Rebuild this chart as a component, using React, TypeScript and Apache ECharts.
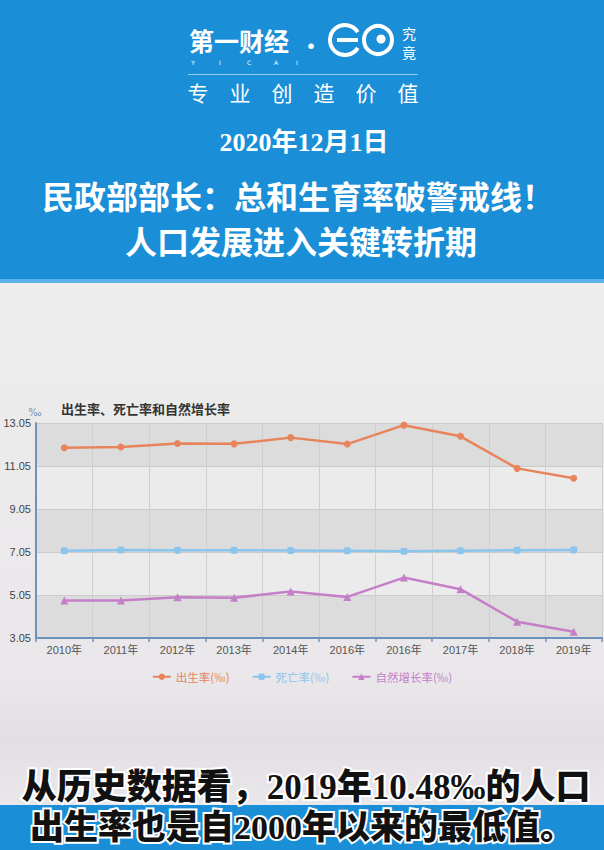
import React, { useEffect, useRef } from "react";
import * as echarts from "echarts";

const categories = ["2010年", "2011年", "2012年", "2013年", "2014年", "2016年", "2016年", "2017年", "2018年", "2019年"];
const birthRate = [11.9, 11.93, 12.1, 12.08, 12.37, 12.07, 12.95, 12.43, 10.94, 10.48];
const deathRate = [7.11, 7.14, 7.13, 7.13, 7.12, 7.11, 7.09, 7.11, 7.13, 7.14];
const naturalRate = [4.79, 4.79, 4.95, 4.92, 5.21, 4.96, 5.86, 5.32, 3.81, 3.34];
const seriesNames = ["出生率(‰)", "死亡率(‰)", "自然增长率(‰)"];
const yMin = 3.05;
const yMax = 13.05;
const yStep = 2;

const BLUE = "#1a8fd7";
const ORANGE = "#e8845c";
const LBLUE = "#8cc5ec";
const PURPLE = "#c57fc8";
const CJK = '"Noto Sans CJK SC", "Noto Sans", sans-serif';
const SERIF_CJK = '"Liberation Serif", "Noto Sans CJK SC", serif';

export default function App() {
  const ref = useRef<HTMLDivElement>(null);
  useEffect(() => {
    if (!ref.current) return;
    const chart = echarts.init(ref.current, undefined, { renderer: "svg" });
    const yicai = ["Y", "I", "C", "A", "I"];
    const yicaiX = [193, 220, 249, 276, 297];
    const graphic: any[] = [
      {
        type: "rect",
        z: -10,
        silent: true,
        shape: { x: 0, y: 0, width: 604, height: 850 },
        style: {
          fill: new echarts.graphic.LinearGradient(0, 0, 0, 1, [
            { offset: 0.33, color: "#ededed" },
            { offset: 0.8, color: "#eae7ea" },
            { offset: 0.87, color: "#e4dde5" },
            { offset: 0.94, color: "#e9e7ea" },
          ]),
        },
      },
      { type: "rect", shape: { x: 0, y: 0, width: 604, height: 283 }, style: { fill: BLUE } },
      { type: "rect", shape: { x: 0, y: 279, width: 604, height: 4 }, style: { fill: "#5db2e8" } },
      // logo
      { type: "text", x: 189, y: 40, style: { text: "第一财经", fill: "#fff", font: `bold 25px ${CJK}`, textVerticalAlign: "middle" } },
      ...yicai.map((t, i) => ({
        type: "text",
        x: yicaiX[i],
        y: 62,
        style: { text: t, fill: "#fff", font: `6px "DejaVu Sans"`, textAlign: "center", textVerticalAlign: "middle" },
      })),
      { type: "text", x: 311, y: 44, style: { text: "·", fill: "#fff", font: `bold 22px ${CJK}`, textAlign: "center", textVerticalAlign: "middle" } },
      {
        type: "arc",
        shape: { cx: 345, cy: 40, r: 15, startAngle: 0.55, endAngle: Math.PI * 2 - 0.55, clockwise: true },
        style: { stroke: "#fff", lineWidth: 4, fill: null },
      },
      { type: "line", shape: { x1: 337, y1: 40, x2: 358, y2: 40 }, style: { stroke: "#fff", lineWidth: 4 } },
      { type: "circle", shape: { cx: 378, cy: 40, r: 14 }, style: { stroke: "#fff", lineWidth: 4, fill: null } },
      { type: "circle", shape: { cx: 381, cy: 39, r: 4.5 }, style: { fill: "#fff" } },
      { type: "text", x: 409, y: 33, style: { text: "究", fill: "#fff", font: `14px ${CJK}`, textAlign: "center", textVerticalAlign: "middle" } },
      { type: "text", x: 409, y: 52, style: { text: "竟", fill: "#fff", font: `14px ${CJK}`, textAlign: "center", textVerticalAlign: "middle" } },
      { type: "line", shape: { x1: 188, y1: 74.5, x2: 418, y2: 74.5 }, style: { stroke: "rgba(255,255,255,0.55)", lineWidth: 1 } },
      {
        type: "text",
        x: 303,
        y: 92,
        style: { text: "专　业　创　造　价　值", fill: "#fff", font: `21px ${CJK}`, textAlign: "center", textVerticalAlign: "middle" },
      },
      {
        type: "text",
        x: 304,
        y: 142,
        style: { text: "2020年12月1日", fill: "#fff", font: `bold 26px ${SERIF_CJK}`, textAlign: "center", textVerticalAlign: "middle" },
      },
      {
        type: "text",
        x: 298,
        y: 195,
        style: { text: "民政部部长：总和生育率破警戒线！", fill: "#fff", font: `bold 32px ${CJK}`, textAlign: "center", textVerticalAlign: "middle" },
      },
      {
        type: "text",
        x: 301,
        y: 240,
        style: { text: "人口发展进入关键转折期", fill: "#fff", font: `bold 32px ${CJK}`, textAlign: "center", textVerticalAlign: "middle" },
      },
      { type: "text", x: 35, y: 412, style: { text: "‰", fill: "#6d93bd", font: `10px "DejaVu Sans"`, textAlign: "center", textVerticalAlign: "middle" } },
      // caption
      { type: "rect", shape: { x: 0, y: 805, width: 604, height: 45 }, style: { fill: BLUE } },
      {
        type: "text",
        x: 306,
        y: 787,
        style: {
          text: "从历史数据看，2019年10.48‰的人口",
          fill: "#111",
          stroke: "#fff",
          lineWidth: 4,
          font: `900 35px ${SERIF_CJK}`,
          textAlign: "center",
          textVerticalAlign: "middle",
        },
      },
      {
        type: "text",
        x: 302,
        y: 827,
        style: {
          text: "出生率也是自2000年以来的最低值。",
          fill: "#111",
          stroke: "#fff",
          lineWidth: 4,
          font: `900 34px ${SERIF_CJK}`,
          textAlign: "center",
          textVerticalAlign: "middle",
        },
      },
    ];

    const colors = [ORANGE, LBLUE, PURPLE];
    chart.setOption({
      animation: false,
      backgroundColor: "transparent",
      color: colors,
      title: {
        text: "出生率、死亡率和自然增长率",
        left: 56,
        top: 397,
        textStyle: { fontFamily: CJK, fontSize: 13, fontWeight: "bold", color: "#333" },
      },
      legend: {
        top: 666,
        left: "center",
        itemGap: 22,
        itemWidth: 18,
        itemHeight: 8,
        textStyle: { fontFamily: CJK, fontSize: 11.5 },
        data: seriesNames.map((n, i) => ({ name: n, textStyle: { color: colors[i] } })),
      },
      grid: { left: 36, right: 2, top: 423, bottom: 212 },
      xAxis: {
        type: "category",
        data: categories,
        boundaryGap: true,
        axisLine: { lineStyle: { color: "#6d93bd", width: 2 } },
        axisTick: { show: true, alignWithLabel: false, length: 4, lineStyle: { color: "#6d93bd", width: 1.5 } },
        axisLabel: { color: "#555", fontSize: 11, margin: 6, fontFamily: '"Liberation Sans", "Noto Sans CJK SC", sans-serif' },
        splitLine: { show: true, lineStyle: { color: "#cfcfcf", width: 1 } },
      },
      yAxis: {
        type: "value",
        min: yMin,
        max: yMax,
        interval: yStep,
        axisLine: { show: true, lineStyle: { color: "#6d93bd", width: 2 } },
        axisTick: { show: false },
        axisLabel: {
          color: "#444",
          fontSize: 11,
          margin: 5,
          fontFamily: '"Liberation Sans", sans-serif',
          formatter: (v: number) => v.toFixed(2),
        },
        splitLine: { show: true, lineStyle: { color: "#cbcbcb", width: 1 } },
        splitArea: { show: true, areaStyle: { color: ["#dcdcdc", "#ebebeb"] } },
      },
      series: [
        {
          name: seriesNames[0],
          type: "line",
          data: birthRate,
          symbol: "circle",
          symbolSize: 7,
          lineStyle: { width: 2.5, color: ORANGE },
          itemStyle: { color: ORANGE },
        },
        {
          name: seriesNames[1],
          type: "line",
          data: deathRate,
          symbol: "roundRect",
          symbolSize: 7,
          lineStyle: { width: 2.5, color: LBLUE },
          itemStyle: { color: LBLUE },
        },
        {
          name: seriesNames[2],
          type: "line",
          data: naturalRate,
          symbol: "triangle",
          symbolSize: 8,
          lineStyle: { width: 2.5, color: PURPLE },
          itemStyle: { color: PURPLE },
        },
      ],
      graphic,
    });
    return () => chart.dispose();
  }, []);
  return <div ref={ref} style={{ position: "absolute", left: 0, top: 0, width: 604, height: 850 }} />;
}
